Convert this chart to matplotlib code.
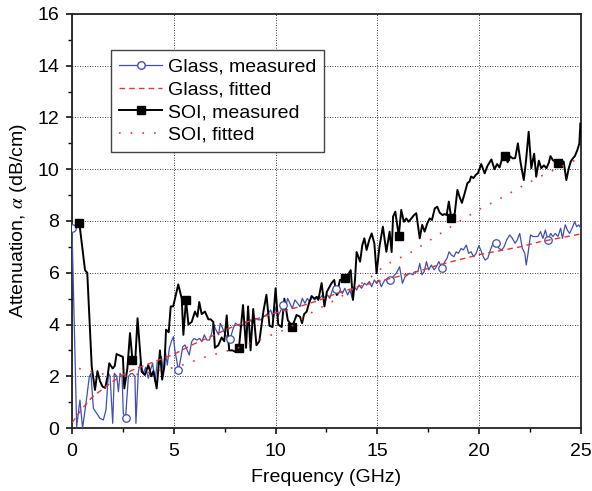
import matplotlib
matplotlib.use("Agg")
import matplotlib.pyplot as plt
from matplotlib.lines import Line2D
from matplotlib.ticker import MultipleLocator

plt.rcParams['font.family'] = ['Liberation Sans', 'DejaVu Sans']
plt.rcParams['mathtext.fontset'] = 'stix'

# Glass substrate, measured attenuation (GHz, dB/cm)
glass_f = [0.0, 0.23, 0.39, 0.52, 0.69, 0.85, 0.93, 1.05, 1.21, 1.38, 1.54, 1.67, 1.79, 1.87,
           2.0, 2.08, 2.2, 2.28, 2.36, 2.46, 2.52, 2.63, 2.77, 2.88, 2.98, 3.09, 3.14, 3.26,
           3.37, 3.5, 3.62, 3.75, 3.83, 3.96, 4.08, 4.19, 4.29, 4.39, 4.49, 4.58, 4.68, 4.78,
           4.88, 4.98, 5.06, 5.14, 5.22, 5.3, 5.44, 5.55, 5.66, 5.76, 5.88, 6.0, 6.13, 6.27,
           6.38, 6.5, 6.62, 6.75, 6.86, 6.94, 7.07, 7.2, 7.28, 7.4, 7.5, 7.6, 7.68, 7.76,
           7.92, 8.03, 8.16, 8.28, 8.4, 8.55, 8.66, 8.77, 8.9, 9.03, 9.15, 9.27, 9.4, 9.53,
           9.64, 9.76, 9.89, 10.02, 10.1, 10.23, 10.37, 10.46, 10.59, 10.7, 10.82, 10.95,
           11.08, 11.2, 11.31, 11.44, 11.56, 11.67, 11.8, 11.93, 12.06, 12.17, 12.31, 12.43,
           12.55, 12.66, 12.79, 12.88, 12.97, 13.05, 13.16, 13.28, 13.4, 13.54, 13.65, 13.77,
           13.87, 13.98, 14.1, 14.22, 14.36, 14.47, 14.6, 14.72, 14.85, 14.96, 15.08, 15.19,
           15.36, 15.52, 15.63, 15.77, 15.93, 16.09, 16.23, 16.36, 16.49, 16.6, 16.74, 16.86,
           16.99, 17.08, 17.19, 17.3, 17.41, 17.52, 17.65, 17.79, 17.9, 18.02, 18.17, 18.31,
           18.42, 18.52, 18.63, 18.76, 18.87, 18.98, 19.11, 19.22, 19.37, 19.48, 19.6, 19.73,
           19.85, 19.98, 20.07, 20.2, 20.3, 20.42, 20.55, 20.68, 20.84, 20.97, 21.1, 21.22,
           21.35, 21.5, 21.63, 21.76, 21.87, 21.99, 22.12, 22.24, 22.31, 22.4, 22.52, 22.65,
           22.76, 22.88, 23.01, 23.13, 23.25, 23.38, 23.51, 23.62, 23.74, 23.87, 24.0, 24.09,
           24.17, 24.23, 24.33, 24.44, 24.56, 24.69, 24.79, 24.89, 24.99]
glass_v = [7.72, 0.05, 1.08, 0.0, 0.97, 1.98, 2.11, 0.76, 0.57, 0.37, 0.31, 0.7, 2.11, 2.0,
           0.18, 2.11, 2.0, 1.4, 2.11, 2.0, 0.57, 0.37, 1.98, 2.1, 2.1, 2.0, 0.18, 2.18,
           2.56, 2.1, 2.35, 1.92, 2.18, 2.5, 1.79, 2.56, 2.47, 2.76, 2.18, 3.01, 2.43, 3.08,
           3.34, 3.53, 2.96, 2.63, 2.24, 2.5, 3.14, 3.21, 3.01, 2.82, 3.34, 3.46, 3.4, 3.46,
           3.34, 3.6, 3.4, 3.4, 3.66, 4.05, 3.79, 3.6, 4.05, 3.85, 3.66, 3.53, 3.27, 3.43,
           3.85, 4.05, 3.98, 3.92, 3.98, 4.11, 4.05, 4.18, 4.05, 4.24, 4.18, 4.18, 4.3, 4.37,
           4.43, 4.56, 4.24, 4.69, 4.3, 4.5, 4.75, 4.56, 5.01, 4.82, 4.62, 4.95,
           4.82, 4.69, 5.01, 4.82, 5.01, 4.88, 5.07, 4.95, 5.07, 5.01, 5.14, 5.01,
           5.14, 5.01, 5.33, 5.46, 5.36, 5.14, 5.33, 5.2, 5.4, 5.14, 5.33, 5.01,
           5.46, 5.33, 5.53, 5.4, 5.59, 5.53, 5.66, 5.46, 5.72, 5.59, 5.72, 5.46,
           5.72, 5.78, 5.72, 5.85, 5.98, 6.23, 5.59, 5.85, 5.92, 5.98, 5.92, 6.05,
           6.05, 6.36, 5.92, 6.05, 6.43, 6.11, 6.3, 6.11, 6.24, 6.43, 6.17, 6.43,
           6.56, 6.81, 6.69, 6.62, 6.81, 6.75, 6.94, 6.88, 7.07, 6.75, 6.81, 6.62,
           6.75, 7.04, 6.9, 6.62, 6.49, 6.56, 6.88, 7.14, 7.14, 6.94, 6.88, 7.0,
           7.27, 7.46, 7.33, 7.14, 7.27, 7.52, 6.94, 6.75, 6.3, 6.75, 7.46, 7.4,
           7.4, 7.4, 7.59, 7.33, 7.65, 7.27, 7.52, 7.4, 7.52, 7.4, 7.72, 7.33,
           7.65, 7.85, 7.65, 7.52, 7.72, 7.97, 7.78, 7.85, 7.72]
glass_mark_f = [0.0, 2.63, 5.22, 7.76, 10.37, 12.97, 15.63, 18.17, 20.84, 23.38]
glass_mark_v = [7.72, 0.37, 2.24, 3.43, 4.75, 5.36, 5.72, 6.17, 7.14, 7.27]

# SOI substrate, measured attenuation
soi_f = [0.36, 0.64, 0.75, 0.97, 1.13, 1.25, 1.38, 1.5, 1.63, 1.75, 1.83, 2.0, 2.1, 2.19,
         2.35, 2.5, 2.57, 2.72, 2.85, 2.97, 3.1, 3.22, 3.42, 3.58, 3.75, 3.9, 4.0, 4.16,
         4.32, 4.43, 4.54, 4.62, 4.75, 4.85, 4.97, 5.22, 5.39, 5.47, 5.6, 5.72, 5.88, 6.04,
         6.16, 6.25, 6.37, 6.53, 6.7, 6.81, 6.94, 7.02, 7.19, 7.35, 7.48, 7.6, 7.72, 7.89,
         8.0, 8.2, 8.4, 8.55, 8.65, 8.77, 8.9, 9.06, 9.2, 9.4, 9.55, 9.7, 9.85, 10.0,
         10.13, 10.3, 10.43, 10.6, 10.82, 11.03, 11.2, 11.3, 11.4, 11.53, 11.64, 11.77, 11.9,
         12.02, 12.1, 12.26, 12.4, 12.52, 12.64, 12.75, 12.88, 13.0, 13.16, 13.41, 13.54,
         13.69, 13.8, 13.9, 13.98, 14.15, 14.26, 14.36, 14.47, 14.6, 14.72, 14.85, 14.96,
         15.1, 15.27, 15.44, 15.6, 15.7, 15.77, 15.88, 16.05, 16.17, 16.3, 16.42, 16.53,
         16.67, 16.8, 16.91, 17.08, 17.2, 17.32, 17.45, 17.57, 17.68, 17.82, 17.94, 18.06,
         18.2, 18.3, 18.4, 18.51, 18.63, 18.8, 18.93, 19.05, 19.15, 19.28, 19.42, 19.53,
         19.6, 19.72, 19.83, 19.94, 20.1, 20.27, 20.4, 20.6, 20.75, 20.88, 21.0, 21.16,
         21.28, 21.4, 21.52, 21.64, 21.77, 21.9, 22.03, 22.19, 22.3, 22.43, 22.56, 22.7,
         22.8, 22.93, 23.05, 23.18, 23.3, 23.42, 23.5, 23.62, 23.87, 24.0, 24.15, 24.28,
         24.4, 24.5, 24.6, 24.7, 24.82, 24.92, 24.97]
soi_v = [7.93, 6.1, 6.0, 2.37, 1.47, 2.2, 1.8, 1.6, 1.55, 2.0, 2.5, 2.3, 2.4, 2.86,
         2.8, 2.75, 1.53, 2.3, 3.67, 2.62, 2.5, 4.24, 2.18, 2.05, 2.43, 2.0, 2.2, 1.53,
         3.0, 1.87, 2.4, 3.8, 3.7, 4.7, 4.7, 5.55, 5.0, 3.6, 4.95, 4.0, 4.1, 4.5,
         4.3, 4.87, 4.4, 4.5, 4.2, 4.2, 4.1, 3.1, 3.2, 3.5, 3.35, 4.35, 3.0, 3.0,
         2.95, 3.1, 4.75, 3.1, 4.7, 3.0, 4.6, 3.2, 3.35, 4.5, 5.15, 3.95, 3.9, 5.4,
         4.0, 3.9, 5.0, 4.17, 3.92, 4.37, 4.3, 4.05, 4.4, 4.5, 4.82, 5.1, 5.0,
         5.07, 4.95, 5.6, 4.7, 5.27, 5.44, 5.6, 5.72, 5.14, 5.72, 5.78, 5.9,
         6.1, 4.95, 5.72, 6.8, 6.43, 7.07, 7.33, 6.88, 7.27, 7.52, 7.14, 5.98,
         7.0, 7.78, 6.81, 7.59, 6.8, 8.17, 8.36, 7.42, 8.43, 7.97, 8.1, 7.97,
         8.1, 8.23, 8.3, 7.33, 7.85, 7.59, 7.91, 8.1, 8.04, 8.49, 8.55, 8.32,
         8.23, 8.27, 8.23, 8.75, 8.1, 8.3, 9.2, 8.9, 8.7, 9.05, 9.46, 9.53,
         9.72, 9.66, 9.78, 9.85, 10.2, 9.84, 10.12, 10.38, 10.0, 10.2, 10.07, 10.5,
         10.5, 10.27, 10.5, 10.42, 10.43, 11.0, 10.27, 9.58, 10.33, 11.45, 10.04, 10.6,
         9.71, 10.33, 10.04, 10.15, 10.04, 10.25, 10.51, 10.35, 10.23, 10.1, 10.3, 9.58,
         10.04, 10.3, 10.42, 10.51, 10.74, 11.0, 11.77]
soi_mark_f = [0.36, 2.97, 5.6, 8.2, 10.82, 13.41, 16.05, 18.63, 21.28, 23.87]
soi_mark_v = [7.93, 2.62, 4.95, 3.1, 3.92, 5.78, 7.42, 8.1, 10.5, 10.23]

# fitted curves
glass_fit_f = [0.0, 0.5, 1.0, 1.5, 2.0, 2.5, 3.0, 4.0, 5.0, 6.0, 7.0, 8.0, 9.0, 10.0, 11.0,
               12.0, 13.0, 14.0, 15.0, 16.0, 17.0, 18.0, 19.0, 20.0, 21.0, 22.0, 23.0, 24.0, 25.0]
glass_fit_v = [0.2, 0.75, 1.2, 1.5, 1.8, 2.05, 2.25, 2.55, 2.85, 3.25, 3.6, 3.95, 4.2, 4.45, 4.65,
               4.9, 5.2, 5.45, 5.65, 5.85, 6.05, 6.3, 6.5, 6.7, 6.85, 7.0, 7.2, 7.35, 7.5]
soi_fit_f = [0.35, 1.4, 2.5, 3.8, 5.2, 6.6, 8.1, 9.5, 10.7, 11.7, 13.2, 14.6, 15.4, 16.7,
             17.9, 19.0, 20.0, 21.0, 22.0, 23.0, 24.0, 25.0]
soi_fit_v = [2.3, 2.1, 1.98, 2.15, 2.37, 2.76, 3.08, 3.5, 3.88, 4.43, 5.07, 5.78, 6.3, 6.81,
             7.42, 7.97, 8.45, 8.85, 9.3, 9.72, 10.1, 10.45]

blue = '#3f4fb3'
red = '#e8352c'
fs = 14

fig = plt.figure(figsize=(5.92, 4.91), dpi=100)
ax = fig.add_axes([0.1216, 0.1283, 0.8598, 0.8432])

ax.plot(glass_f, glass_v, color=blue, lw=0.9, zorder=3)
ax.plot(glass_mark_f, glass_mark_v, ls='none', marker='o', ms=5.4, mfc='white',
        mec=blue, mew=0.9, zorder=4)
ax.plot(glass_fit_f, glass_fit_v, color=red, lw=1.0, dashes=(4, 3), zorder=5)
ax.plot(soi_f, soi_v, color='black', lw=1.4, zorder=3)
ax.plot(soi_mark_f, soi_mark_v, ls='none', marker='s', ms=5.4, color='black', zorder=4)
ax.plot(soi_fit_f, soi_fit_v, color=red, lw=1.2, dashes=(1, 6), zorder=5)

ax.set_xlim(0, 25)
ax.set_ylim(0, 16)
ax.xaxis.set_major_locator(MultipleLocator(5))
ax.xaxis.set_minor_locator(MultipleLocator(2.5))
ax.yaxis.set_major_locator(MultipleLocator(2))
ax.yaxis.set_minor_locator(MultipleLocator(1))
ax.tick_params(which='major', direction='out', length=4, width=1.1, labelsize=fs)
ax.tick_params(axis='x', which='major', pad=7)
ax.tick_params(axis='y', which='major', pad=5)
ax.tick_params(which='minor', direction='out', length=3, width=1.0)
ax.grid(True, which='major', color='black', ls=(0, (1, 2)), lw=0.6)
for s in ax.spines.values():
    s.set_linewidth(1.3)
    s.set_color('#222222')

ax.set_xlabel('Frequency (GHz)', fontsize=fs, labelpad=6)
ax.set_ylabel(r'Attenuation, $\alpha$ (dB/cm)', fontsize=fs, labelpad=6)

handles = [
    Line2D([], [], color=blue, lw=0.9, marker='o', ms=5.4, mfc='white', mec=blue),
    Line2D([], [], color=red, lw=1.0, dashes=(4, 3)),
    Line2D([], [], color='black', lw=1.4, marker='s', ms=5.4),
    Line2D([], [], color=red, lw=1.2, dashes=(1, 6)),
]
labels = ['Glass, measured', 'Glass, fitted', 'SOI, measured', 'SOI, fitted']
leg = ax.legend(handles, labels, loc='upper left', bbox_to_anchor=(0.077, 0.913),
                borderaxespad=0, fontsize=fs, handlelength=2.2, handletextpad=0.3,
                labelspacing=0.26, fancybox=False, framealpha=1, edgecolor='#444444',
                borderpad=0.42)
leg.get_frame().set_linewidth(1.0)

fig.savefig('out.png', dpi=100)
